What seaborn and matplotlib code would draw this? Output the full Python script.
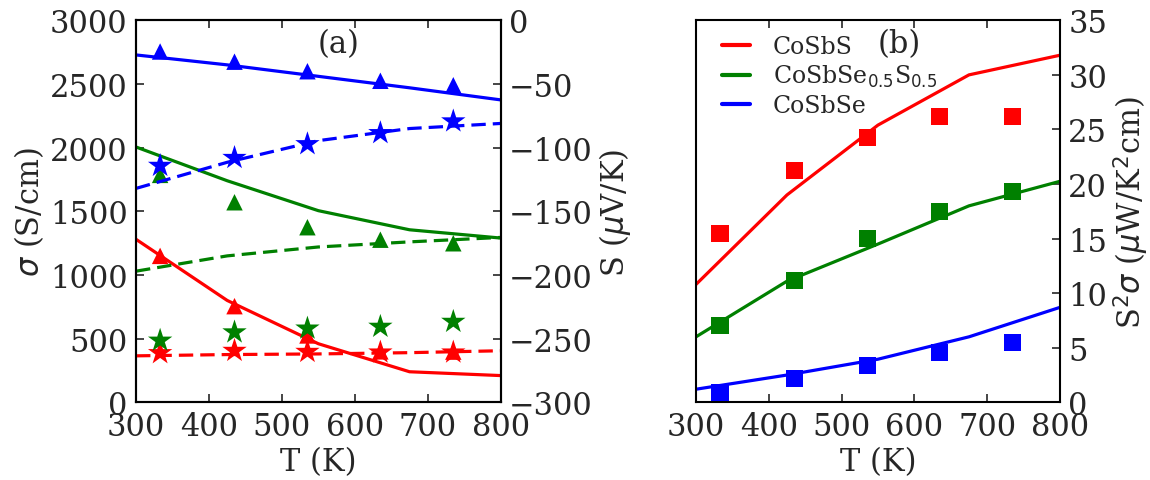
import matplotlib
matplotlib.use("Agg")
import matplotlib.pyplot as plt
import seaborn as sns

# ---------------- data ----------------
T_calc = [300, 425, 550, 675, 800]
T_exp = [333, 435, 535, 635, 735]
materials = ["CoSbS", "CoSbSe$_{0.5}$S$_{0.5}$", "CoSbSe"]
colors = ["#ff0000", "#008000", "#0000ff"]

# electrical conductivity sigma (S/cm): calculated (solid) and experiment (triangles)
sigma_calc_CoSbS = [1280, 800, 460, 240, 210]
sigma_calc_mix = [2005, 1740, 1505, 1355, 1290]
sigma_calc_CoSbSe = [2728, 2650, 2560, 2470, 2375]
sigma_exp_CoSbS = [1150, 755, 525, 400, 398]
sigma_exp_mix = [1786, 1571, 1375, 1277, 1249]
sigma_exp_CoSbSe = [2755, 2675, 2600, 2525, 2490]

# Seebeck S (uV/K): calculated (dashed) and experiment (stars)
S_calc_CoSbS = [-263.5, -262.5, -262, -261, -259.5]
S_calc_mix = [-197, -185, -178, -174, -170.5]
S_calc_CoSbSe = [-132, -111.5, -94.5, -85, -81]
S_exp_CoSbS = [-261.3, -259.5, -260.3, -260.8, -260.8]
S_exp_mix = [-251.5, -245, -242, -240.6, -236.7]
S_exp_CoSbSe = [-114.2, -108, -97.2, -88.5, -79.3]

# power factor S^2 sigma (uW/K^2 cm)
PF_calc_CoSbS = [10.8, 19.0, 25.4, 30.0, 31.8]
PF_calc_mix = [6.0, 11.1, 14.5, 18.0, 20.25]
PF_calc_CoSbSe = [1.2, 2.5, 3.95, 6.0, 8.7]
PF_exp_CoSbS = [15.5, 21.2, 24.3, 26.2, 26.2]
PF_exp_mix = [7.0, 11.2, 15.05, 17.5, 19.3]
PF_exp_CoSbSe = [0.92, 2.2, 3.36, 4.53, 5.44]

sig_calc = [sigma_calc_CoSbS, sigma_calc_mix, sigma_calc_CoSbSe]
sig_exp = [sigma_exp_CoSbS, sigma_exp_mix, sigma_exp_CoSbSe]
S_calc = [S_calc_CoSbS, S_calc_mix, S_calc_CoSbSe]
S_exp = [S_exp_CoSbS, S_exp_mix, S_exp_CoSbSe]
PF_calc = [PF_calc_CoSbS, PF_calc_mix, PF_calc_CoSbSe]
PF_exp = [PF_exp_CoSbS, PF_exp_mix, PF_exp_CoSbSe]

# ---------------- style ----------------
sns.set_style("ticks")
plt.rcParams["font.family"] = ["DejaVu Serif"]
plt.rcParams["mathtext.fontset"] = "dejavusans"
plt.rcParams["axes.linewidth"] = 1.5
plt.rcParams["axes.edgecolor"] = "black"

FS = 22
fig = plt.figure(figsize=(11.5, 4.81), dpi=100)
axA = fig.add_axes([0.1183, 0.1615, 0.3171, 0.7942])
axS = axA.twinx()
axB = fig.add_axes([0.6052, 0.1615, 0.3165, 0.7942])

LW = 2.3
for i in range(3):
    c = colors[i]
    sns.lineplot(x=T_calc, y=sig_calc[i], ax=axA, color=c, lw=LW, legend=False)
    sns.scatterplot(x=T_exp, y=sig_exp[i], ax=axA, color=c, marker="^", s=140,
                    edgecolor="none", legend=False, zorder=3)
    sns.lineplot(x=T_calc, y=S_calc[i], ax=axS, color=c, lw=LW, legend=False)
    axS.lines[-1].set_linestyle((0, (4.5, 2.2)))
    sns.scatterplot(x=T_exp, y=S_exp[i], ax=axS, color=c, marker="*", s=340,
                    edgecolor="none", legend=False, zorder=4)
    sns.lineplot(x=T_calc, y=PF_calc[i], ax=axB, color=c, lw=LW, label=materials[i])
    sns.scatterplot(x=T_exp, y=PF_exp[i], ax=axB, color=c, marker="s", s=150,
                    edgecolor="none", legend=False, zorder=3)

# panel (a)
axA.set_xlim(300, 800)
axA.set_ylim(0, 3000)
axA.set_xticks(range(300, 801, 100))
axA.set_yticks(range(0, 3001, 500))
axS.set_ylim(-300, 0)
axS.set_yticks(range(-300, 1, 50))
axA.set_xlabel("T (K)", fontsize=FS, labelpad=3)
axA.set_ylabel(r"$\sigma$ (S/cm)", fontsize=FS, labelpad=3)
axS.set_ylabel(r"S ($\mu$V/K)", fontsize=FS, labelpad=3)
axA.text(0.555, 0.938, "(a)", transform=axA.transAxes, ha="center", va="center", fontsize=FS)
axA.tick_params(axis="both", which="major", direction="in", length=6, width=1.2,
                labelsize=FS, pad=6, top=True, right=False)
axS.tick_params(axis="y", which="major", direction="in", length=6, width=1.2,
                labelsize=FS, pad=6)

# panel (b)
axB.set_xlim(300, 800)
axB.set_ylim(0, 35)
axB.set_xticks(range(300, 801, 100))
axB.set_yticks(range(0, 36, 5))
axB.yaxis.tick_right()
axB.yaxis.set_label_position("right")
axB.set_xlabel("T (K)", fontsize=FS, labelpad=3)
axB.set_ylabel(r"S$^2\sigma$ ($\mu$W/K$^2$cm)", fontsize=FS, labelpad=3)
axB.text(0.558, 0.938, "(b)", transform=axB.transAxes, ha="center", va="center", fontsize=FS)
axB.tick_params(axis="both", which="major", direction="in", length=6, width=1.2,
                labelsize=FS, pad=6, top=True, left=False, right=True)
leg = axB.legend(loc="upper left", frameon=False, fontsize=17, handlelength=1.2,
                 handletextpad=0.95, labelspacing=0.2, borderaxespad=0.0,
                 bbox_to_anchor=(0.045, 0.985))
for h in leg.get_lines():
    h.set_linewidth(3)

for ax in (axA, axS, axB):
    for sp in ax.spines.values():
        sp.set_visible(True)
        sp.set_linewidth(1.5)

fig.savefig("out.png", dpi=100)
